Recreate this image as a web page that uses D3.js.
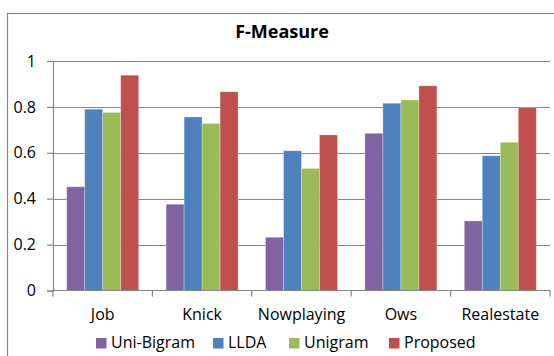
<!DOCTYPE html>
<html><head><meta charset="utf-8">
<script src="https://cdn.jsdelivr.net/npm/d3@7"></script>
<style>body{margin:0;background:#fff;}svg{display:block;}</style>
</head><body>
<script>
const categories = ["Job", "Knick", "Nowplaying", "Ows", "Realestate"];
const seriesNames = ["Uni-Bigram", "LLDA", "Unigram", "Proposed"];
const uniBigram = [0.452, 0.376, 0.232, 0.685, 0.303];
const llda = [0.790, 0.756, 0.609, 0.816, 0.587];
const unigram = [0.776, 0.728, 0.532, 0.830, 0.646];
const proposed = [0.938, 0.866, 0.678, 0.892, 0.797];
const yTicks = [0, 0.2, 0.4, 0.6, 0.8, 1];
const yTickLabels = ["0", "0.2", "0.4", "0.6", "0.8", "1"];
const colors = ["#8064A2", "#4F81BD", "#9BBB59", "#C0504D"];
const seriesValues = [uniBigram, llda, unigram, proposed];

const W = 554, H = 356;
const font = "'Open Sans', sans-serif";
const svg = d3.select("body").append("svg").attr("width", W).attr("height", H);

// outer chart border
svg.append("rect").attr("x", 7.5).attr("y", 13.5).attr("width", 560).attr("height", 360)
  .attr("fill", "none").attr("stroke", "#868686").attr("stroke-width", 1.2);

const x0 = 53, x1 = 550, yTop = 61, yBot = 290.5;
const x = d3.scaleBand().domain(categories).range([x0, x1]).paddingInner(0).paddingOuter(0);
const y = d3.scaleLinear().domain([0, 1]).range([yBot, yTop]);
const groupW = 72;
const xs = d3.scaleBand().domain(seriesNames).range([0, groupW]);

// gridlines
svg.append("g").selectAll("line").data(yTicks.filter(d => d > 0)).join("line")
  .attr("x1", x0).attr("x2", x1).attr("y1", d => Math.round(y(d)) + 0.5).attr("y2", d => Math.round(y(d)) + 0.5)
  .attr("stroke", "#868686").attr("stroke-width", 1.2);

// y axis
const yAxis = d3.axisLeft(y).tickValues(yTicks).tickFormat((d, i) => yTickLabels[i]).tickSize(6).tickPadding(11);
const gy = svg.append("g").attr("transform", `translate(${x0},0)`).call(yAxis);
gy.select(".domain").attr("stroke", "#868686").attr("stroke-width", 1.2);
gy.selectAll(".tick line").attr("stroke", "#868686").attr("stroke-width", 1.2);
gy.selectAll(".tick text").attr("font-family", font).attr("font-size", 16).attr("fill", "#000");

// bars
const data = [];
categories.forEach((c, ci) => seriesNames.forEach((s, si) => data.push({c, s, si, v: seriesValues[si][ci]})));
const off = (x.bandwidth() - groupW) / 2;
svg.append("g").selectAll("rect").data(data).join("rect")
  .attr("x", d => x(d.c) + off + xs(d.s))
  .attr("y", d => y(d.v))
  .attr("width", xs.bandwidth())
  .attr("height", d => y(0) - y(d.v))
  .attr("fill", d => colors[d.si])
  .attr("stroke", "rgba(255,255,255,0.35)").attr("stroke-width", 0.8);

// x axis
const xAxis = d3.axisBottom(x).tickSize(0).tickPadding(0);
const gx = svg.append("g").attr("transform", `translate(0,${yBot})`).call(xAxis);
gx.select(".domain").remove();
gx.selectAll(".tick text").attr("font-family", font).attr("font-size", 16).attr("fill", "#000")
  .attr("dy", null).attr("y", 29.5);
svg.append("line").attr("x1", x0 - 1).attr("x2", x1 + 0.5).attr("y1", yBot).attr("y2", yBot)
  .attr("stroke", "#868686").attr("stroke-width", 1.2);
const boundaries = categories.map(c => x(c)).concat([x1]);
svg.append("g").selectAll("line").data(boundaries).join("line")
  .attr("x1", d => d).attr("x2", d => d).attr("y1", yBot).attr("y2", yBot + 6)
  .attr("stroke", "#868686").attr("stroke-width", 1.2);

// title
svg.append("text").attr("x", 282).attr("y", 38).attr("text-anchor", "middle")
  .attr("font-family", font).attr("font-weight", "bold").attr("font-size", 18).text("F-Measure");

// legend
const legendX = [96, 213, 289, 389];
const lg = svg.append("g").selectAll("g").data(seriesNames).join("g")
  .attr("transform", (d, i) => `translate(${legendX[i]},338)`);
lg.append("rect").attr("width", 10.5).attr("height", 10.5).attr("fill", (d, i) => colors[i]);
lg.append("text").attr("x", 15).attr("y", 10).attr("font-family", font).attr("font-size", 16).text(d => d);
</script>
</body></html>
